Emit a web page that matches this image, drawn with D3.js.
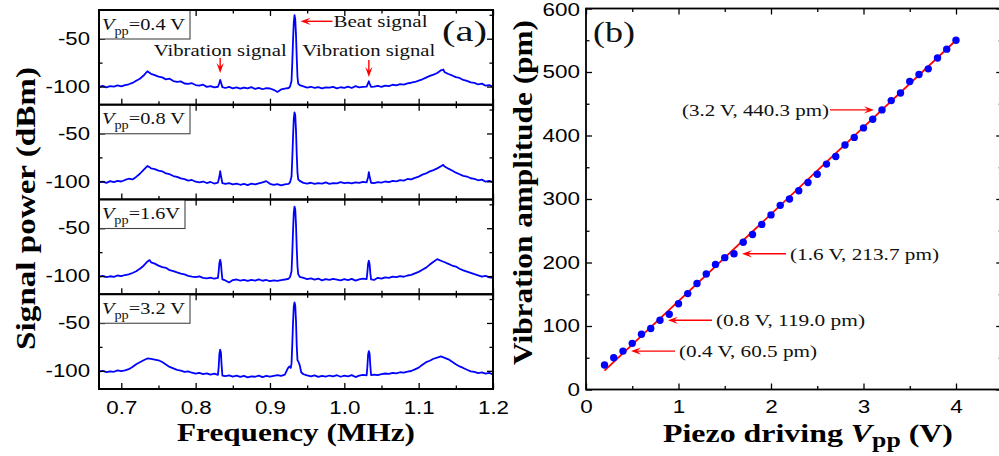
<!DOCTYPE html>
<html>
<head>
<meta charset="utf-8">
<script src="https://cdn.jsdelivr.net/npm/d3@7"></script>
<style>
  html, body { margin: 0; padding: 0; background: #fff; }
  svg { display: block; font-family: "Liberation Serif", "Times New Roman", Times, "Nimbus Roman", "FreeSerif", "Noto Serif", serif; }
</style>
</head>
<body>
<div class="container"></div>
<script>
'use strict';

// ---- panel (a): spectra, [frequency MHz, power dBm] ----
const spectrumVpp = ['0.4 V', '0.8 V', '1.6V', '3.2 V'];

const spectrum04 = [
  [0.670,-100.5],[0.675,-99.2],[0.680,-100.8],[0.685,-99.6],[0.690,-100.1],[0.695,-98.7],[0.700,-99.9],
  [0.705,-98.5],[0.710,-97.6],[0.715,-96.2],[0.720,-94.0],[0.725,-91.8],[0.730,-88.5],[0.735,-84.0],
  [0.738,-85.5],[0.740,-86.8],[0.745,-88.0],[0.750,-89.6],[0.755,-90.4],[0.760,-92.5],[0.765,-91.8],
  [0.770,-94.2],[0.775,-95.0],[0.780,-94.6],[0.785,-96.8],[0.790,-97.2],[0.795,-96.5],[0.800,-98.4],
  [0.805,-99.1],[0.810,-98.0],[0.815,-100.3],[0.820,-99.6],[0.825,-100.9],[0.830,-100.2],[0.832,-96.0],
  [0.833,-93.0],[0.834,-95.5],[0.836,-100.6],[0.840,-101.5],[0.845,-100.4],[0.850,-101.8],[0.855,-100.9],
  [0.860,-102.2],[0.865,-101.0],[0.870,-101.9],[0.875,-100.6],[0.880,-102.5],[0.885,-101.3],[0.890,-102.8],
  [0.895,-101.6],[0.900,-102.0],[0.905,-103.4],[0.910,-105.6],[0.915,-103.0],[0.920,-102.2],[0.925,-101.5],
  [0.927,-100.0],[0.929,-94.0],[0.930,-75.0],[0.931,-52.0],[0.932,-33.0],[0.933,-25.5],[0.934,-30.0],
  [0.935,-46.0],[0.936,-70.0],[0.937,-90.0],[0.938,-97.0],[0.940,-98.6],[0.945,-99.8],[0.950,-101.0],
  [0.955,-100.2],[0.960,-101.4],[0.965,-100.5],[0.970,-101.8],[0.975,-100.9],[0.980,-101.2],[0.985,-100.4],
  [0.990,-101.9],[0.995,-100.7],[1.000,-101.3],[1.005,-100.1],[1.010,-101.5],[1.015,-99.6],[1.020,-100.8],
  [1.025,-100.3],[1.030,-100.0],[1.032,-96.5],[1.033,-94.5],[1.034,-96.8],[1.036,-100.4],[1.040,-100.0],
  [1.045,-99.2],[1.050,-100.3],[1.055,-99.0],[1.060,-99.5],[1.065,-98.1],[1.070,-98.8],[1.075,-97.4],
  [1.080,-97.9],[1.085,-96.6],[1.090,-96.0],[1.095,-95.2],[1.100,-93.8],[1.105,-92.4],[1.110,-90.6],
  [1.115,-88.9],[1.120,-87.5],[1.125,-85.8],[1.130,-83.0],[1.133,-82.2],[1.135,-85.0],[1.140,-86.9],
  [1.145,-88.4],[1.150,-90.2],[1.155,-91.0],[1.160,-93.1],[1.165,-94.0],[1.170,-95.6],[1.175,-96.2],
  [1.180,-97.8],[1.185,-96.9],[1.190,-99.1],[1.195,-98.4],[1.200,-100.2]
];

const spectrum08 = [
  [0.670,-101.2],[0.675,-100.4],[0.680,-101.6],[0.685,-99.8],[0.690,-100.9],[0.695,-99.5],[0.700,-100.2],
  [0.705,-98.6],[0.710,-97.3],[0.715,-98.0],[0.720,-95.4],[0.725,-92.1],[0.730,-88.0],[0.735,-84.0],
  [0.738,-85.2],[0.740,-86.5],[0.745,-87.2],[0.750,-88.9],[0.755,-89.5],[0.760,-91.8],[0.765,-92.6],
  [0.770,-94.5],[0.775,-95.3],[0.780,-97.0],[0.785,-97.8],[0.790,-99.3],[0.795,-98.6],[0.800,-100.4],
  [0.805,-101.0],[0.810,-100.2],[0.815,-101.8],[0.820,-100.7],[0.825,-102.3],[0.830,-101.4],[0.832,-95.0],
  [0.833,-89.5],[0.834,-94.0],[0.836,-102.0],[0.840,-102.8],[0.845,-101.9],[0.850,-103.1],[0.855,-102.4],
  [0.860,-103.6],[0.865,-102.7],[0.870,-103.9],[0.875,-102.5],[0.880,-103.3],[0.885,-102.1],[0.890,-101.0],
  [0.895,-99.8],[0.900,-102.6],[0.905,-103.8],[0.910,-103.0],[0.915,-104.2],[0.920,-103.1],[0.925,-102.6],
  [0.927,-101.0],[0.929,-95.0],[0.930,-76.0],[0.931,-54.0],[0.932,-35.0],[0.933,-28.0],[0.934,-31.0],
  [0.935,-47.0],[0.936,-72.0],[0.937,-91.0],[0.938,-98.0],[0.940,-99.5],[0.945,-101.6],[0.950,-102.3],
  [0.955,-101.5],[0.960,-102.7],[0.965,-101.9],[0.970,-102.4],[0.975,-101.2],[0.980,-102.6],[0.985,-101.8],
  [0.990,-102.1],[0.995,-100.9],[1.000,-102.0],[1.005,-101.3],[1.010,-102.2],[1.015,-101.0],[1.020,-101.7],
  [1.025,-100.6],[1.030,-101.2],[1.032,-95.5],[1.033,-90.5],[1.034,-95.0],[1.036,-101.5],[1.040,-101.8],
  [1.045,-100.9],[1.050,-101.4],[1.055,-100.2],[1.060,-100.8],[1.065,-99.6],[1.070,-100.1],[1.075,-98.8],
  [1.080,-99.2],[1.085,-97.6],[1.090,-98.0],[1.095,-96.4],[1.100,-95.1],[1.105,-93.0],[1.110,-91.8],
  [1.115,-89.6],[1.120,-88.3],[1.125,-86.5],[1.130,-84.2],[1.133,-82.8],[1.135,-84.6],[1.140,-86.8],
  [1.145,-88.7],[1.150,-91.0],[1.155,-92.6],[1.160,-94.3],[1.165,-95.0],[1.170,-96.8],[1.175,-97.5],
  [1.180,-98.9],[1.185,-98.2],[1.190,-100.4],[1.195,-99.6],[1.200,-100.8]
];

const spectrum16 = [
  [0.670,-100.6],[0.675,-99.8],[0.680,-101.0],[0.685,-100.2],[0.690,-100.9],[0.695,-99.4],[0.700,-100.1],
  [0.705,-98.9],[0.710,-98.2],[0.715,-96.8],[0.720,-95.0],[0.725,-92.4],[0.730,-89.2],[0.735,-85.0],
  [0.738,-83.3],[0.740,-85.6],[0.745,-87.0],[0.750,-89.1],[0.755,-90.6],[0.760,-91.4],[0.765,-93.9],
  [0.770,-94.8],[0.775,-96.2],[0.780,-97.5],[0.785,-98.3],[0.790,-99.8],[0.795,-100.6],[0.800,-101.2],
  [0.805,-100.4],[0.810,-101.9],[0.815,-102.5],[0.820,-101.6],[0.825,-102.8],[0.830,-101.8],[0.831,-95.0],
  [0.832,-86.0],[0.833,-83.0],[0.834,-86.5],[0.835,-96.0],[0.836,-103.5],[0.840,-104.6],[0.845,-106.8],
  [0.850,-104.2],[0.855,-103.6],[0.860,-104.8],[0.865,-103.9],[0.870,-105.1],[0.875,-104.0],[0.880,-104.7],
  [0.885,-103.5],[0.890,-104.9],[0.895,-104.1],[0.900,-105.3],[0.905,-104.4],[0.910,-105.0],[0.915,-104.2],
  [0.920,-103.6],[0.925,-102.8],[0.927,-101.0],[0.929,-95.0],[0.930,-76.0],[0.931,-53.0],[0.932,-34.0],
  [0.933,-27.5],[0.934,-30.5],[0.935,-46.0],[0.936,-71.0],[0.937,-90.0],[0.938,-98.0],[0.940,-100.8],
  [0.945,-101.9],[0.950,-103.2],[0.955,-102.4],[0.960,-103.8],[0.965,-102.6],[0.970,-104.5],[0.975,-103.1],
  [0.980,-104.0],[0.985,-102.9],[0.990,-103.7],[0.995,-104.6],[1.000,-103.3],[1.005,-104.2],[1.010,-103.0],
  [1.015,-104.8],[1.020,-103.4],[1.025,-102.6],[1.030,-103.2],[1.031,-96.0],[1.032,-87.0],[1.033,-84.0],
  [1.034,-87.5],[1.035,-97.0],[1.036,-103.5],[1.040,-104.1],[1.045,-101.8],[1.050,-102.6],[1.055,-101.3],
  [1.060,-101.9],[1.065,-100.6],[1.070,-101.2],[1.075,-100.1],[1.080,-100.7],[1.085,-99.4],[1.090,-98.8],
  [1.095,-97.2],[1.100,-95.6],[1.105,-93.4],[1.110,-91.2],[1.115,-88.0],[1.120,-85.1],[1.125,-82.3],
  [1.130,-84.0],[1.135,-85.6],[1.140,-87.2],[1.145,-89.0],[1.150,-90.1],[1.155,-92.4],[1.160,-94.0],
  [1.165,-95.3],[1.170,-96.6],[1.175,-98.0],[1.180,-99.2],[1.185,-100.5],[1.190,-99.7],[1.195,-101.4],
  [1.200,-102.0]
];

const spectrum32 = [
  [0.670,-100.9],[0.675,-100.1],[0.680,-101.3],[0.685,-100.5],[0.690,-101.0],[0.695,-99.6],[0.700,-100.4],
  [0.705,-99.5],[0.710,-98.3],[0.715,-96.0],[0.720,-93.2],[0.725,-91.0],[0.730,-88.9],[0.735,-87.1],
  [0.740,-87.6],[0.745,-88.3],[0.750,-89.0],[0.755,-90.8],[0.760,-93.5],[0.765,-95.9],[0.770,-97.4],
  [0.775,-99.0],[0.780,-99.8],[0.785,-101.2],[0.790,-100.6],[0.795,-102.0],[0.800,-102.9],[0.805,-102.1],
  [0.810,-103.4],[0.815,-102.7],[0.820,-103.9],[0.825,-103.0],[0.830,-104.2],[0.831,-96.0],[0.832,-82.0],
  [0.833,-78.0],[0.834,-81.0],[0.835,-95.0],[0.836,-105.0],[0.840,-105.6],[0.845,-104.8],[0.850,-106.0],
  [0.855,-105.1],[0.860,-106.4],[0.865,-105.3],[0.870,-106.9],[0.875,-105.7],[0.880,-106.2],[0.885,-105.0],
  [0.890,-106.6],[0.895,-105.4],[0.900,-106.1],[0.905,-105.2],[0.910,-104.4],[0.915,-105.3],[0.920,-104.0],
  [0.924,-97.5],[0.926,-95.5],[0.928,-97.0],[0.929,-92.0],[0.930,-72.0],[0.931,-50.0],[0.932,-33.0],
  [0.933,-28.5],[0.934,-32.0],[0.935,-48.0],[0.936,-74.0],[0.937,-89.0],[0.938,-90.0],[0.940,-94.0],
  [0.942,-101.5],[0.945,-103.6],[0.950,-104.8],[0.955,-105.9],[0.960,-104.7],[0.965,-106.3],[0.970,-105.2],
  [0.975,-106.0],[0.980,-104.9],[0.985,-105.8],[0.990,-104.6],[0.995,-106.2],[1.000,-105.1],[1.005,-105.9],
  [1.010,-104.5],[1.015,-106.5],[1.020,-105.0],[1.025,-104.3],[1.030,-104.8],[1.031,-96.0],[1.032,-83.0],
  [1.033,-79.5],[1.034,-82.0],[1.035,-95.0],[1.036,-104.5],[1.040,-103.9],[1.045,-104.6],[1.050,-103.5],
  [1.055,-102.8],[1.060,-103.3],[1.065,-102.1],[1.070,-102.7],[1.075,-101.5],[1.080,-101.9],[1.085,-100.8],
  [1.090,-100.2],[1.095,-98.5],[1.100,-96.7],[1.105,-93.6],[1.110,-91.0],[1.115,-89.5],[1.120,-87.4],
  [1.125,-86.2],[1.130,-85.0],[1.135,-86.4],[1.140,-88.0],[1.145,-90.6],[1.150,-93.2],[1.155,-95.4],
  [1.160,-97.0],[1.165,-98.9],[1.170,-100.5],[1.175,-101.1],[1.180,-102.3],[1.185,-101.6],[1.190,-103.0],
  [1.195,-102.2],[1.200,-103.8]
];

const freqMajor = [0.7, 0.8, 0.9, 1.0, 1.1, 1.2];
const freqMinor = [0.75, 0.85, 0.95, 1.05, 1.15];
const powerMajor = [-50, -100];
const powerMinor = [-25, -75];
const beatFreq = 0.933;
const vibrationFreqs = [0.833, 1.033];

// ---- panel (b): vibration amplitude vs piezo driving voltage ----
const vpp = [0.2, 0.3, 0.4, 0.5, 0.6, 0.7, 0.8, 0.9, 1.0, 1.1, 1.2, 1.3, 1.4, 1.5, 1.6, 1.7, 1.8, 1.9, 2.0,
  2.1, 2.2, 2.3, 2.4, 2.5, 2.6, 2.7, 2.8, 2.9, 3.0, 3.1, 3.2, 3.3, 3.4, 3.5, 3.6, 3.7, 3.8, 3.9, 4.0];
const amplitude = [38.5, 50, 60.5, 72.7, 87, 96, 109, 118.5, 135, 151, 167, 182, 197, 207.6, 213.7, 232, 244, 260, 275,
  290, 300, 313, 326, 339, 355, 367, 385, 397, 412, 425.5, 440.3, 455, 467, 485, 496, 505, 522, 536, 550];
const fitLine = [[0.2, 29.6], [4.0, 550]];
const noteVpp = [3.2, 1.6, 0.8, 0.4];
const noteText = ['(3.2 V, 440.3 pm)', '(1.6 V, 213.7 pm)', '(0.8 V, 119.0 pm)', '(0.4 V, 60.5 pm)'];
const noteSide = ['left', 'right', 'right', 'right'];
const noteWidth = [147, 149, 149, 138];
const vppMajor = [0, 1, 2, 3, 4];
const vppMinor = [0.5, 1.5, 2.5, 3.5, 4.5];
const ampMajor = [0, 100, 200, 300, 400, 500, 600];
const ampMinor = [50, 150, 250, 350, 450, 550];

const BLUE = '#0000ff';
const RED = '#ff0000';

const svg = d3.select('.container').append('svg')
  .attr('width', 999)
  .attr('height', 456);

// the figure's serif runs wide, so texts are fitted to the widths measured on it
function fitTo(sel, len) {
  sel.attr('textLength', len).attr('lengthAdjust', 'spacingAndGlyphs');
}
// tick labels: width from their characters
const charW = { '.': 6, '-': 7 };
function fitTicks(sel) {
  sel.each(function () {
    const s = this.textContent;
    let w = 0;
    for (const c of s) w += charW[c] || 12.5;
    fitTo(d3.select(this), w);
  });
}

function arrow(g, x1, y1, x2, y2) {
  const a = Math.atan2(y2 - y1, x2 - x1);
  const pt = (d, s) => [x2 - d * Math.cos(a) - s * Math.sin(a), y2 - d * Math.sin(a) + s * Math.cos(a)];
  const base = pt(6, 0);
  g.append('line')
    .attr('x1', x1).attr('y1', y1).attr('x2', base[0]).attr('y2', base[1])
    .attr('stroke', RED).attr('stroke-width', 1.4);
  g.append('path')
    .attr('d', 'M' + [x2, y2] + 'L' + pt(10, 3.6) + 'L' + base + 'L' + pt(10, -3.6) + 'Z')
    .attr('fill', RED);
}

function styleTicks(g) {
  g.select('.domain').remove();
  g.selectAll('.tick line').attr('stroke', '#000').attr('stroke-width', 1.3);
  g.selectAll('.tick text').attr('fill', '#000').style('font-size', '18px');
}

// =================== panel (a) ===================
const xA = d3.scaleLinear().domain([0.67, 1.2]).range([99, 493]);
const rowTop = 10;
const rowH = 94.75;
const yA = d3.scaleLinear().domain([-119, -20]).range([rowH, 0]);
const spectra = [spectrum04, spectrum08, spectrum16, spectrum32];
const boxW = [91, 91, 86, 91];

const lineA = d3.line().x(d => xA(d[0])).y(d => yA(d[1]));

svg.append('clipPath').attr('id', 'clipA')
  .append('rect').attr('x', 99).attr('y', 0).attr('width', 394).attr('height', rowH);

spectra.forEach((data, i) => {
  const g = svg.append('g').attr('transform', `translate(0,${rowTop + i * rowH})`);
  const last = i === spectra.length - 1;

  g.append('path')
    .datum(data)
    .attr('clip-path', 'url(#clipA)')
    .attr('fill', 'none')
    .attr('stroke', BLUE)
    .attr('stroke-width', 1.8)
    .attr('stroke-linejoin', 'round')
    .attr('d', lineA);

  // ticks point inward on all four sides
  const bottom = g.append('g').attr('transform', `translate(0,${rowH})`)
    .call(d3.axisBottom(xA).tickValues(freqMajor).tickSizeInner(-6).tickSizeOuter(0).tickPadding(12)
      .tickFormat(last ? d3.format('.1f') : ''));
  styleTicks(bottom);
  if (last) fitTicks(bottom.selectAll('.tick text'));
  g.append('g').attr('transform', `translate(0,${rowH})`)
    .call(d3.axisBottom(xA).tickValues(freqMinor).tickSizeInner(-3.5).tickSizeOuter(0).tickFormat(''))
    .call(styleTicks);
  g.append('g')
    .call(d3.axisTop(xA).tickValues(freqMajor).tickSizeInner(-6).tickSizeOuter(0).tickFormat(''))
    .call(styleTicks);
  g.append('g')
    .call(d3.axisTop(xA).tickValues(freqMinor).tickSizeInner(-3.5).tickSizeOuter(0).tickFormat(''))
    .call(styleTicks);

  const left = g.append('g').attr('transform', 'translate(99,0)')
    .call(d3.axisLeft(yA).tickValues(powerMajor).tickSizeInner(-6).tickSizeOuter(0).tickPadding(9)
      .tickFormat(d => String(d)));
  styleTicks(left);
  fitTicks(left.selectAll('.tick text'));
  g.append('g').attr('transform', 'translate(99,0)')
    .call(d3.axisLeft(yA).tickValues(powerMinor).tickSizeInner(-3.5).tickSizeOuter(0).tickFormat(''))
    .call(styleTicks);
  g.append('g').attr('transform', 'translate(493,0)')
    .call(d3.axisRight(yA).tickValues(powerMajor).tickSizeInner(-6).tickSizeOuter(0).tickFormat(''))
    .call(styleTicks);
  g.append('g').attr('transform', 'translate(493,0)')
    .call(d3.axisRight(yA).tickValues(powerMinor).tickSizeInner(-3.5).tickSizeOuter(0).tickFormat(''))
    .call(styleTicks);

  // V_pp label box
  g.append('rect')
    .attr('x', 99).attr('y', 0).attr('width', boxW[i]).attr('height', 29)
    .attr('fill', '#fff').attr('stroke', '#444').attr('stroke-width', 1.1);
  const t = g.append('text').attr('x', 102).attr('y', 19.5).style('font-size', '17px').attr('fill', '#111');
  t.append('tspan').style('font-style', 'italic').text('V');
  t.append('tspan').attr('dy', 5).style('font-size', '12px').text('pp');
  t.append('tspan').attr('dy', -5).text('=' + spectrumVpp[i]);
  fitTo(t, boxW[i] - 8);

  g.append('rect')
    .attr('x', 99).attr('y', 0).attr('width', 394).attr('height', rowH)
    .attr('fill', 'none').attr('stroke', '#000').attr('stroke-width', 2);
});

// annotations in the top spectrum
const annA = svg.append('g');
arrow(annA, xA(beatFreq) + 38, 21.3, xA(beatFreq) + 6, 21.3);
fitTo(annA.append('text').attr('x', xA(beatFreq) + 39).attr('y', 26.5)
  .style('font-size', '17px').attr('fill', '#111').text('Beat signal'), 94);
vibrationFreqs.forEach((f, i) => {
  arrow(annA, xA(f), 58 + i * 2, xA(f), 73 + i * 4);
  fitTo(annA.append('text').attr('x', xA(f)).attr('y', 56).attr('text-anchor', 'middle')
    .style('font-size', '17px').attr('fill', '#111').text('Vibration signal'), 133);
});
fitTo(svg.append('text').attr('x', 442).attr('y', 41).style('font-size', '29px').attr('fill', '#111').text('(a)'), 45);

// axis titles (a)
fitTo(svg.append('text').attr('x', 177).attr('y', 441).style('font-size', '26px').style('font-weight', 'bold')
  .text('Frequency (MHz)'), 238);
fitTo(svg.append('text').attr('transform', 'translate(35,208.5) rotate(-90)').attr('text-anchor', 'middle')
  .style('font-size', '27px').style('font-weight', 'bold').text('Signal power (dBm)'), 283);

// =================== panel (b) ===================
const xB = d3.scaleLinear().domain([0, 4.5]).range([586, 1002.25]);
const yB = d3.scaleLinear().domain([0, 600]).range([389.5, 8.5]);
const gB = svg.append('g');

gB.append('path')
  .datum(fitLine)
  .attr('fill', 'none')
  .attr('stroke', RED)
  .attr('stroke-width', 1.8)
  .attr('d', d3.line().x(d => xB(d[0])).y(d => yB(d[1])));

gB.selectAll('circle')
  .data(vpp.map((v, i) => [v, amplitude[i]]))
  .enter()
  .append('circle')
  .attr('cx', d => xB(d[0]))
  .attr('cy', d => yB(d[1]))
  .attr('r', 3.7)
  .attr('fill', BLUE);

const bx = gB.append('g').attr('transform', 'translate(0,389.5)')
  .call(d3.axisBottom(xB).tickValues(vppMajor).tickSizeInner(-6).tickSizeOuter(0).tickPadding(11)
    .tickFormat(d3.format('d')));
styleTicks(bx);
fitTicks(bx.selectAll('.tick text'));
gB.append('g').attr('transform', 'translate(0,389.5)')
  .call(d3.axisBottom(xB).tickValues(vppMinor).tickSizeInner(-3.5).tickSizeOuter(0).tickFormat(''))
  .call(styleTicks);
gB.append('g').attr('transform', 'translate(0,8.5)')
  .call(d3.axisTop(xB).tickValues(vppMajor).tickSizeInner(-6).tickSizeOuter(0).tickFormat(''))
  .call(styleTicks);
gB.append('g').attr('transform', 'translate(0,8.5)')
  .call(d3.axisTop(xB).tickValues(vppMinor).tickSizeInner(-3.5).tickSizeOuter(0).tickFormat(''))
  .call(styleTicks);

const by = gB.append('g').attr('transform', 'translate(586,0)')
  .call(d3.axisLeft(yB).tickValues(ampMajor).tickSizeInner(-6).tickSizeOuter(0).tickPadding(6)
    .tickFormat(d3.format('d')));
styleTicks(by);
fitTicks(by.selectAll('.tick text'));
// keep the top label inside the picture
by.selectAll('.tick text').filter(d => d === 600).attr('y', 1.5);
gB.append('g').attr('transform', 'translate(586,0)')
  .call(d3.axisLeft(yB).tickValues(ampMinor).tickSizeInner(-3.5).tickSizeOuter(0).tickFormat(''))
  .call(styleTicks);
gB.append('g').attr('transform', 'translate(1002.25,0)')
  .call(d3.axisRight(yB).tickValues(ampMajor).tickSizeInner(-6).tickSizeOuter(0).tickFormat(''))
  .call(styleTicks);
gB.append('g').attr('transform', 'translate(1002.25,0)')
  .call(d3.axisRight(yB).tickValues(ampMinor).tickSizeInner(-3.5).tickSizeOuter(0).tickFormat(''))
  .call(styleTicks);

gB.append('rect')
  .attr('x', 586).attr('y', 8.5).attr('width', 1002.25 - 586).attr('height', 381)
  .attr('fill', 'none').attr('stroke', '#000').attr('stroke-width', 1.8);

// point annotations
noteVpp.forEach((v, i) => {
  const k = vpp.indexOf(v);
  const px = xB(v);
  const py = yB(amplitude[k]);
  if (noteSide[i] === 'left') {
    arrow(gB, px - 52, py, px - 8, py);
    fitTo(gB.append('text').attr('x', px - 53).attr('y', py + 6).attr('text-anchor', 'end')
      .style('font-size', '16px').attr('fill', '#111').text(noteText[i]), noteWidth[i]);
  } else {
    arrow(gB, px + 52, py, px + 8, py);
    fitTo(gB.append('text').attr('x', px + 56).attr('y', py + 6)
      .style('font-size', '16px').attr('fill', '#111').text(noteText[i]), noteWidth[i]);
  }
});

fitTo(svg.append('text').attr('x', 593).attr('y', 42).style('font-size', '30px').attr('fill', '#111').text('(b)'), 42);

// axis titles (b)
const xt = svg.append('text').attr('x', 663).attr('y', 442)
  .style('font-size', '26px').style('font-weight', 'bold');
xt.append('tspan').text('Piezo driving ');
xt.append('tspan').style('font-style', 'italic').text('V');
xt.append('tspan').attr('dy', 5).style('font-size', '21px').text('pp');
xt.append('tspan').attr('dy', -5).text(' (V)');
fitTo(xt, 290);

fitTo(svg.append('text').attr('transform', 'translate(532,192.5) rotate(-90)').attr('text-anchor', 'middle')
  .style('font-size', '27px').style('font-weight', 'bold').text('Vibration amplitude (pm)'), 345);
</script>
</body>
</html>
